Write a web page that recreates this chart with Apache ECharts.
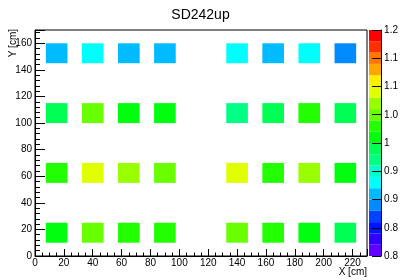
<!DOCTYPE html>
<html><head><meta charset="utf-8">
<script src="https://cdn.jsdelivr.net/npm/echarts@6/dist/echarts.min.js"></script>
<style>html,body{margin:0;padding:0;background:#fff}#c{width:401px;height:280px}</style>
</head><body><div id="c"></div>
<script>
// ---- data ----
const xBinCenters = [15, 40, 65, 90, 140, 165, 190, 215];
const yBinCenters = [17.5, 62.5, 107.5, 152.5];
const valuesY17 = [1.01, 1.05, 1.03, 1.03, 1.05, 1.03, 1.01, 0.99];
const valuesY62 = [1.03, 1.09, 1.07, 1.05, 1.09, 1.03, 1.07, 1.01];
const valuesY107 = [0.99, 1.05, 1.01, 1.01, 0.97, 0.99, 1.03, 0.99];
const valuesY152 = [0.91, 0.93, 0.91, 0.91, 0.93, 0.91, 0.93, 0.89];
const paletteLevels = [0.80, 0.82, 0.84, 0.86, 0.88, 0.90, 0.92, 0.94, 0.96, 0.98, 1.00,
                       1.02, 1.04, 1.06, 1.08, 1.10, 1.12, 1.14, 1.16, 1.18, 1.20];
const paletteColors = ['#6200ff', '#3300ff', '#0014ff', '#0044ff', '#008bff', '#00bbff',
                       '#00fffc', '#00ffcc', '#00ff85', '#00ff55', '#00ff0e', '#22ff00',
                       '#69ff00', '#99ff00', '#e0ff00', '#ffee00', '#ffa700', '#ff7700',
                       '#ff3000', '#ff0000'];
const xTickLabels = ['0','20','40','60','80','100','120','140','160','180','200','220'];
const yTickLabels = ['0','20','40','60','80','100','120','140','160'];
const zTickLabels = ['0.8','0.8','0.9','0.9','1','1.0','1.1','1.1','1.2'];

const BIN_W = 15, BIN_H = 15;
const FONT = '"Liberation Sans", Arial, Helvetica, sans-serif';

const rows = [valuesY17, valuesY62, valuesY107, valuesY152];
const cellData = [];
rows.forEach((row, j) => row.forEach((v, i) => cellData.push([xBinCenters[i], yBinCenters[j], v])));

const bandData = [];
for (let k = 0; k < paletteColors.length; k++) bandData.push([paletteLevels[k], paletteLevels[k + 1], k]);

function colorFor(v) {
  for (let k = paletteColors.length - 1; k >= 0; k--) {
    if (v >= paletteLevels[k]) return paletteColors[k];
  }
  return paletteColors[0];
}

const chart = echarts.init(document.getElementById('c'), null, {renderer: 'canvas'});
chart.setOption({
  animation: false,
  backgroundColor: '#fff',
  title: {
    text: 'SD242up', left: 'center', top: 3,
    textStyle: {fontFamily: FONT, fontSize: 14, fontWeight: 'normal', color: '#000'}
  },
  grid: [
    {left: 35, right: 34, top: 30, bottom: 24, show: true, borderColor: '#000', borderWidth: 1, backgroundColor: 'transparent'},
    {left: 369, width: 19, top: 30, bottom: 24, show: false}
  ],
  xAxis: [
    {
      type: 'value', gridIndex: 0, min: 0, max: 230, interval: 20,
      axisLine: {show: true, onZero: false, lineStyle: {color: '#000', width: 1}},
      axisTick: {show: true, inside: true, length: 7, lineStyle: {color: '#000'}},
      minorTick: {show: true, splitNumber: 4, length: 3.5, lineStyle: {color: '#000'}},
      splitLine: {show: false},
      axisLabel: {
        margin: 2, fontFamily: FONT, fontSize: 10, color: '#000', showMaxLabel: false,
        formatter: (v) => { const i = Math.round(v / 20); return xTickLabels[i] !== undefined && Math.abs(v - i * 20) < 1e-6 ? xTickLabels[i] : ''; }
      }
    },
    {type: 'value', gridIndex: 1, min: 0, max: 1, show: false}
  ],
  yAxis: [
    {
      type: 'value', gridIndex: 0, min: 0, max: 170, interval: 20,
      axisLine: {show: true, onZero: false, lineStyle: {color: '#000', width: 1}},
      axisTick: {show: true, inside: true, length: 10, lineStyle: {color: '#000'}},
      minorTick: {show: true, splitNumber: 5, length: 5, lineStyle: {color: '#000'}},
      splitLine: {show: false},
      axisLabel: {
        margin: 3, fontFamily: FONT, fontSize: 10, color: '#000', showMaxLabel: false,
        formatter: (v) => { const i = Math.round(v / 20); return yTickLabels[i] !== undefined && Math.abs(v - i * 20) < 1e-6 ? yTickLabels[i] : ''; }
      }
    },
    {
      type: 'value', gridIndex: 1, min: 0.8, max: 1.2, interval: 0.05, position: 'right', z: 10,
      axisLine: {show: true, onZero: false, lineStyle: {color: '#000', width: 1}},
      axisTick: {show: true, inside: true, length: 9, lineStyle: {color: '#000'}},
      splitLine: {show: false},
      axisLabel: {
        margin: 3, fontFamily: FONT, fontSize: 10, color: '#000',
        formatter: (v) => zTickLabels[Math.round((v - 0.8) / 0.05)] || ''
      }
    }
  ],
  graphic: [
    {type: 'text', x: 13, y: 29, rotation: Math.PI / 2,
     style: {text: 'Y [cm]', align: 'right', verticalAlign: 'middle', font: '10px ' + FONT, fill: '#000'}},
    {type: 'text', x: 367, y: 267,
     style: {text: 'X [cm]', align: 'right', verticalAlign: 'top', font: '10px ' + FONT, fill: '#000'}}
  ],
  series: [
    {
      type: 'custom', xAxisIndex: 0, yAxisIndex: 0, data: cellData,
      renderItem: (params, api) => {
        const xc = api.value(0), yc = api.value(1), v = api.value(2);
        const p0 = api.coord([xc - BIN_W / 2, yc + BIN_H / 2]);
        const p1 = api.coord([xc + BIN_W / 2, yc - BIN_H / 2]);
        return {type: 'rect', shape: {x: p0[0], y: p0[1], width: p1[0] - p0[0], height: p1[1] - p0[1]},
                style: {fill: colorFor(v)}};
      }
    },
    {
      type: 'custom', xAxisIndex: 1, yAxisIndex: 1, data: bandData,
      renderItem: (params, api) => {
        const lo = api.value(0), hi = api.value(1), k = api.value(2);
        const p0 = api.coord([0, hi]);
        const p1 = api.coord([1, lo]);
        return {type: 'rect', shape: {x: p0[0], y: p0[1], width: p1[0] - p0[0], height: p1[1] - p0[1]},
                style: {fill: paletteColors[k]}};
      }
    }
  ]
});
</script></body></html>
